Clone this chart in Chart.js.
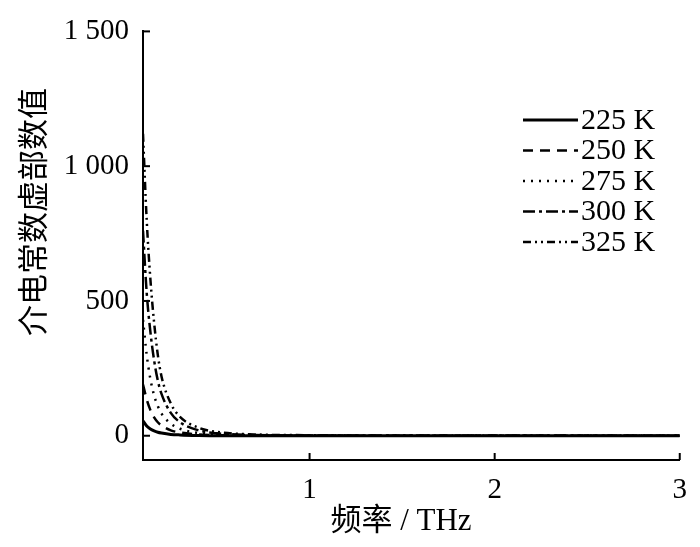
<!DOCTYPE html>
<html>
<head>
<meta charset="utf-8">
<script src="https://cdn.jsdelivr.net/npm/chart.js@4"></script>
<style>
  body { margin: 0; background: #fff; }
  #wrap { width: 700px; height: 547px; }
</style>
</head>
<body>
<div id="wrap"><canvas id="chart1" width="700" height="547"></canvas></div>
<script>
// frequency (THz)
const freq = [0.1, 0.12, 0.14, 0.16, 0.18, 0.2, 0.25, 0.3, 0.4, 0.5, 0.7, 1.0, 1.5, 2.0, 2.5, 3.0];
// imaginary part of permittivity
const k225 = [55, 36, 25, 18, 13, 10, 5, 3, 1, 0, 0, 0, 0, 0, 0, 0];
const k250 = [190, 135, 95, 68, 50, 38, 20, 12, 5, 2, 1, 0, 0, 0, 0, 0];
const k275 = [430, 300, 210, 150, 110, 82, 45, 26, 10, 5, 2, 0, 0, 0, 0, 0];
const k300 = [760, 530, 385, 280, 205, 155, 85, 50, 20, 9, 3, 1, 0, 0, 0, 0];
const k325 = [1120, 800, 580, 420, 300, 220, 120, 70, 30, 14, 5, 2, 0, 0, 0, 0];
const seriesNames = ["225 K", "250 K", "275 K", "300 K", "325 K"];
const xTicks = [1, 2, 3];
const yTicks = [0, 500, 1000, 1500];

const latin = "'Liberation Serif', 'Times New Roman', 'Noto Sans CJK SC', serif";

function pts(arr) {
  return freq.map((f, i) => ({ x: f, y: arr[i] }));
}

const dashes = [[], [10, 7], [2, 6], [12, 4, 3, 4], [8, 4, 2, 4, 2, 4]];
const allSeries = [k225, k250, k275, k300, k325];

const datasets = allSeries.map((s, i) => ({
  label: seriesNames[i],
  data: pts(s),
  borderColor: "#000",
  borderWidth: i === 0 ? 3 : 2.5,
  borderDash: dashes[i],
  pointRadius: 0,
  cubicInterpolationMode: "monotone",
  fill: false,
}));

// ticks inward, titles, legend
const extras = {
  id: "extras",
  afterDraw(chart) {
    const c = chart.ctx;
    const xs = chart.scales.x, ys = chart.scales.y;
    const a = chart.chartArea;
    c.save();
    c.strokeStyle = "#000";
    c.lineWidth = 2;
    c.setLineDash([]);
    xTicks.forEach(v => {
      const px = xs.getPixelForValue(v);
      c.beginPath(); c.moveTo(px, a.bottom); c.lineTo(px, a.bottom - 7); c.stroke();
    });
    yTicks.forEach(v => {
      const py = ys.getPixelForValue(v);
      c.beginPath(); c.moveTo(a.left, py); c.lineTo(a.left + 7, py); c.stroke();
    });

    c.fillStyle = "#000";
    c.font = "31px " + latin;
    c.textAlign = "center";
    c.textBaseline = "middle";
    c.fillText("频率 / THz", 401, 522);

    c.save();
    c.translate(36, 212);
    c.rotate(-Math.PI / 2);
    c.font = "31px " + latin;
    c.fillText("介电常数虚部数值", 0, 0);
    c.restore();

    // legend
    c.textAlign = "left";
    c.font = "30px " + latin;
    chart.data.datasets.forEach((ds, i) => {
      const y = 120 + i * 30.5;
      c.lineWidth = ds.borderWidth;
      c.setLineDash(ds.borderDash);
      c.beginPath(); c.moveTo(523, y); c.lineTo(578, y); c.stroke();
      c.setLineDash([]);
      c.fillText(ds.label, 581, y + 1);
    });
    c.restore();
  }
};

const ctx = document.getElementById("chart1");
new Chart(ctx, {
  type: "line",
  data: { datasets: datasets },
  options: {
    responsive: false,
    animation: false,
    layout: { padding: { left: 0, right: 19, top: 22, bottom: 0 } },
    plugins: {
      legend: { display: false },
      tooltip: { enabled: false },
    },
    scales: {
      x: {
        type: "linear",
        min: 0.1,
        max: 3,
        afterBuildTicks: (s) => { s.ticks = xTicks.map(v => ({ value: v })); },
        afterFit: (s) => { s.height = 87; },
        grid: { display: true, drawOnChartArea: false, drawTicks: false },
        border: { color: "#000", width: 2 },
        ticks: {
          color: "#000",
          padding: 13,
          maxRotation: 0,
          font: { family: latin, size: 29 },
          callback: (v) => String(v),
        },
      },
      y: {
        type: "linear",
        min: -90,
        max: 1500,
        afterBuildTicks: (s) => { s.ticks = yTicks.map(v => ({ value: v })); },
        afterFit: (s) => { s.width = 143; },
        grid: { display: true, drawOnChartArea: false, drawTicks: false },
        border: { color: "#000", width: 2 },
        ticks: {
          color: "#000",
          padding: 14,
          font: { family: latin, size: 29 },
          callback: (v) => v >= 1000 ? String(v).replace(/(\d)(\d{3})$/, "$1 $2") : String(v),
        },
      },
    },
  },
  plugins: [extras],
});
</script>
</body>
</html>
